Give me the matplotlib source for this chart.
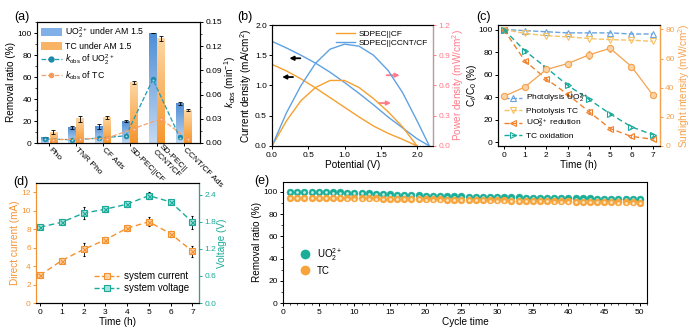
import numpy as np
import matplotlib
matplotlib.use('Agg')
import matplotlib.pyplot as plt
from matplotlib.colors import LinearSegmentedColormap
from matplotlib.ticker import AutoMinorLocator, FormatStrFormatter
from matplotlib.lines import Line2D
from matplotlib.patches import Patch
from matplotlib.transforms import ScaledTranslation

plt.rcParams.update({
    'font.family': ['Liberation Sans', 'DejaVu Sans'],
    'font.size': 6,
    'mathtext.fontset': 'custom',
    'mathtext.rm': 'Liberation Sans',
    'mathtext.it': 'Liberation Sans:italic',
    'mathtext.bf': 'Liberation Sans:bold',
    'axes.linewidth': 0.8,
    'xtick.major.size': 2.5, 'ytick.major.size': 2.5,
    'xtick.minor.size': 1.5, 'ytick.minor.size': 1.5,
    'xtick.major.width': 0.7, 'ytick.major.width': 0.7,
    'xtick.minor.width': 0.5, 'ytick.minor.width': 0.5,
    'xtick.major.pad': 1.5, 'ytick.major.pad': 1.2,
    'axes.labelpad': 1.0,
})

# ---------------- data ----------------
# (a)
cats_a = ['Pho', 'TNR Pho', 'CF Ads', 'SD-PEC||CF', 'SD-PEC||\nCCNT/CF', 'CCNT/CF Ads']
uo2_removal = [5, 14, 15, 20, 100, 36]
uo2_removal_err = [0.5, 1.5, 2, 1, 0, 1.5]
tc_removal = [10, 22, 23, 55, 95, 30]
tc_removal_err = [2, 2.5, 1.5, 1, 2, 1]
kobs_uo2 = [0.005, 0.004, 0.006, 0.009, 0.079, 0.007]
kobs_tc = [0.004, 0.005, 0.006, 0.018, 0.030, 0.005]

# (b)
pot_cf = [0, 0.2, 0.4, 0.6, 0.8, 1.0, 1.2, 1.4, 1.6, 1.8, 2.0]
j_cf = [1.35, 1.24, 1.11, 0.96, 0.80, 0.64, 0.48, 0.33, 0.21, 0.11, 0.0]
p_cf = [0, 0.25, 0.45, 0.58, 0.65, 0.65, 0.58, 0.47, 0.34, 0.19, 0.0]
pot_ccnt = [0, 0.2, 0.4, 0.6, 0.8, 1.0, 1.2, 1.4, 1.6, 1.8, 2.0, 2.17]
j_ccnt = [1.73, 1.62, 1.50, 1.37, 1.22, 1.05, 0.87, 0.68, 0.48, 0.30, 0.12, 0.0]
p_ccnt = [0, 0.33, 0.60, 0.82, 0.96, 1.01, 0.99, 0.90, 0.75, 0.53, 0.25, 0.0]

# (c)
time_h = [0, 1, 2, 3, 4, 5, 6, 7]
photo_uo2 = [100, 99, 98, 97, 97, 97, 96, 96]
photo_tc = [100, 96.5, 94.5, 93.5, 92, 91, 90.5, 89.5]
uo2_red = [100, 72, 56, 42.5, 27, 12, 5, 2.5]
uo2_red_err = [0, 1, 2, 2, 2.5, 1.5, 1, 1]
tc_oxi = [100, 81, 66, 50.5, 38, 25, 13.5, 6.5]
tc_oxi_err = [0, 1.5, 1.5, 2, 1.5, 1, 1, 1]
sun_int = [34, 40.5, 52.5, 56.5, 62.5, 67, 54.5, 35]
sun_int_err = [1, 1.5, 2, 2, 2.5, 2.5, 2, 1.5]

# (d)
sys_current = [3.0, 4.6, 5.8, 6.85, 8.1, 8.8, 7.5, 5.6]
sys_current_err = [0.3, 0.3, 0.7, 0.3, 0.3, 0.5, 0.3, 0.6]
sys_voltage = [1.68, 1.79, 1.99, 2.08, 2.19, 2.38, 2.24, 1.79]
sys_voltage_err = [0.05, 0.07, 0.13, 0.06, 0.07, 0.07, 0.05, 0.14]

# (e)
cycles = list(range(1, 51))
cyc_uo2 = [100, 100, 100, 100, 100, 100, 99.8, 99.6, 99.5, 99.3, 99.1, 98.9,
           98.6, 98.3, 98.0, 97.7, 97.4, 97.2, 97.0, 96.8, 96.6, 96.4, 96.2, 96.1, 96.0,
           95.8, 95.7, 95.6, 95.5, 95.4, 95.3, 95.2, 95.1, 95.0, 94.9, 94.8, 94.7, 94.6,
           94.5, 94.4, 94.4, 94.3, 94.2, 94.1, 94.0, 94.0, 93.9, 93.8, 93.8, 93.7]
cyc_tc = [94.8, 94.8, 94.7, 94.7, 94.6, 94.6, 94.5, 94.5, 94.4, 94.4, 94.3, 94.3, 94.2, 94.1, 94.0,
          93.9, 93.8, 93.7, 93.6, 93.5, 93.4, 93.3, 93.2, 93.1, 93.0, 92.9, 92.8, 92.7, 92.6, 92.5,
          92.4, 92.3, 92.2, 92.1, 92.0, 91.9, 91.8, 91.7, 91.6, 91.5, 91.4, 91.3, 91.2, 91.1, 91.0,
          90.9, 90.8, 90.7, 90.6, 90.5]

# ---------------- figure ----------------
W, H = 700, 332
fig = plt.figure(figsize=(W / 100, H / 100), dpi=100)
LFS = 7.2


def box(l, t, r, b):
    return [l / W, 1 - b / H, (r - l) / W, (b - t) / H]


def plabel(x, y, s):
    fig.text(x / W, 1 - y / H, s, fontsize=9, ha='left', va='center')


def grad_bar(ax, x, h, w, c_top, c_bot):
    cmap = LinearSegmentedColormap.from_list('g', [c_bot, c_top])
    grad = np.linspace(0, 1, 64).reshape(-1, 1)
    ax.imshow(grad, extent=[x - w / 2, x + w / 2, 0, h], origin='lower',
              aspect='auto', cmap=cmap, zorder=2, interpolation='bilinear')


def sphere(ax, x, y, color, ms, hl='white', zorder=3, **kw):
    ax.plot(x, y, 'o', color=color, ms=ms, mec=color, mew=0.3, zorder=zorder, **kw)
    off = ax.transData + ScaledTranslation(0, -0.25 / 72, fig.dpi_scale_trans)
    ax.plot(x, y, 'o', color=hl, ms=ms * 0.4, mew=0, alpha=0.85, zorder=zorder + 0.1,
            transform=off)


# ====== (a) ======
axa = fig.add_axes(box(37, 22, 200, 143))
xa = np.arange(len(cats_a))
bw = 0.27
for xi, v in zip(xa - 0.15, uo2_removal):
    grad_bar(axa, xi, v, bw, '#4f8fd6', '#c3d8f2')
for xi, v in zip(xa + 0.15, tc_removal):
    grad_bar(axa, xi, v, bw, '#fdd7a3', '#f6962c')
axa.errorbar(xa - 0.15, uo2_removal, yerr=uo2_removal_err, fmt='none', ecolor='k',
             elinewidth=0.6, capsize=1.3, capthick=0.6, zorder=4)
axa.errorbar(xa + 0.15, tc_removal, yerr=tc_removal_err, fmt='none', ecolor='k',
             elinewidth=0.6, capsize=1.3, capthick=0.6, zorder=4)
axa.set_xlim(-0.45, 5.6)
axa.set_ylim(0, 110)
axa.set_yticks([0, 20, 40, 60, 80, 100])
axa.yaxis.set_minor_locator(AutoMinorLocator(2))
axa.set_xticks(xa)
axa.set_xticklabels(cats_a, rotation=-45, ha='left', va='center', rotation_mode='anchor',
                    fontsize=6)
axa.set_ylabel('Removal ratio (%)', fontsize=LFS)
axa2 = axa.twinx()
axa2.set_ylim(0, 0.15)
axa2.set_yticks([0, 0.03, 0.06, 0.09, 0.12, 0.15])
axa2.yaxis.set_major_formatter(FormatStrFormatter('%.2f'))
axa2.yaxis.set_minor_locator(AutoMinorLocator(2))
axa2.plot(xa - 0.15, kobs_uo2, '--', color='#1f9bb5', lw=0.9, zorder=3)
sphere(axa2, xa - 0.15, kobs_uo2, '#1a8aa6', 3.6, hl='#bfe8f0')
axa2.plot(xa + 0.15, kobs_tc, '--', color='#f7a46a', lw=0.9, zorder=3)
sphere(axa2, xa + 0.15, kobs_tc, '#f59a5c', 3.0, hl='#ffe3c8')
axa2.set_ylabel('$k_{\\rm obs}$ (min$^{-1}$)', fontsize=LFS, labelpad=0.5)
ha = [Patch(facecolor='#7fb0e6', edgecolor='none'),
      Patch(facecolor='#f9b366', edgecolor='none'),
      Line2D([], [], ls='--', color='#1f9bb5', marker='o', mfc='#1a8aa6', mec='#1a8aa6', ms=3.5, lw=0.9),
      Line2D([], [], ls='--', color='#f7a46a', marker='o', mfc='#f59a5c', mec='#f59a5c', ms=3.0, lw=0.9)]
la = ['UO$_2^{2+}$ under AM 1.5', 'TC under AM 1.5', '$k_{\\rm obs}$ of UO$_2^{2+}$', '$k_{\\rm obs}$ of TC']
axa2.legend(ha, la, loc='upper left', bbox_to_anchor=(0.0, 1.0), frameon=False, fontsize=6.3,
            handlelength=2.4, handleheight=1.1, labelspacing=0.25, handletextpad=0.4,
            borderaxespad=0.2, borderpad=0.2)
plabel(14, 17, '(a)')

# ====== (b) ======
cb_or = '#f5a030'
cb_bl = '#5fa2e2'
pink = '#ff7b8a'
axb = fig.add_axes(box(272, 25, 433, 146))
axb.plot(pot_cf, j_cf, color=cb_or, lw=1.0, label='SDPEC||CF')
axb.plot(pot_ccnt, j_ccnt, color=cb_bl, lw=1.0, label='SDPEC||CCNT/CF')
axb.set_xlim(0, 2.22)
axb.set_ylim(0, 2.0)
axb.set_xticks([0, 0.5, 1.0, 1.5, 2.0])
axb.set_yticks([0, 0.5, 1.0, 1.5, 2.0])
axb.xaxis.set_major_formatter(FormatStrFormatter('%.1f'))
axb.yaxis.set_major_formatter(FormatStrFormatter('%.1f'))
axb.set_xlabel('Potential (V)', fontsize=LFS)
axb.set_ylabel('Current density (mA/cm$^2$)', fontsize=LFS, labelpad=0.5)
axb.legend(loc='upper right', frameon=False, fontsize=6, handlelength=2.2,
           labelspacing=0.2, borderaxespad=0.2, handletextpad=0.5)
axb2 = axb.twinx()
axb2.plot(pot_cf, p_cf, color=cb_or, lw=1.0)
axb2.plot(pot_ccnt, p_ccnt, color=cb_bl, lw=1.0)
axb2.set_ylim(0, 1.2)
axb2.set_yticks([0, 0.3, 0.6, 0.9, 1.2])
axb2.yaxis.set_major_formatter(FormatStrFormatter('%.1f'))
axb2.set_ylabel('Power density (mW/cm$^2$)', fontsize=LFS, color=pink, labelpad=0.3)
axb2.tick_params(axis='y', colors=pink)
axb2.spines['right'].set_color(pink)
for (x0, x1, yv, c) in [(0.39, 0.24, 1.45, 'k'), (0.29, 0.14, 1.14, 'k'),
                        (1.58, 1.76, 1.17, pink), (1.47, 1.64, 0.71, pink)]:
    axb.annotate('', xy=(x1, yv), xytext=(x0, yv),
                 arrowprops=dict(arrowstyle='-|>', color=c, lw=1.3, mutation_scale=6,
                                 shrinkA=0, shrinkB=0))
plabel(237, 17, '(b)')

# ====== (c) ======
c_blue = '#6aa5df'
c_yel = '#f7c266'
c_or = '#f0822e'
c_teal = '#1aa99a'
c_sun = '#f5a24e'
axc = fig.add_axes(box(498, 25, 660, 146))
mk = dict(ms=4, mfc='none', mew=0.8, lw=1.0)
axc.plot(time_h, photo_uo2, '--', marker='^', color=c_blue, **mk)
axc.plot(time_h, photo_tc, '--', marker='v', color=c_yel, **mk)
axc.errorbar(time_h, uo2_red, yerr=uo2_red_err, ls='--', marker='<', color=c_or,
             capsize=1, elinewidth=0.6, dashes=(4, 2.5), **mk)
axc.errorbar(time_h, tc_oxi, yerr=tc_oxi_err, ls='--', marker='>', color=c_teal,
             capsize=1, elinewidth=0.6, dashes=(4, 2.5), **mk)
axc.set_xlim(-0.27, 7.34)
axc.set_ylim(-3.5, 104)
axc.set_xticks(range(8))
axc.set_yticks([0, 20, 40, 60, 80, 100])
axc.set_xlabel('Time (h)', fontsize=LFS)
axc.set_ylabel('C$_t$/C$_0$ (%)', fontsize=LFS)
axc.yaxis.set_label_coords(-0.118, 0.5)
h_c = [Line2D([], [], ls='--', marker='^', color=c_blue, **mk),
       Line2D([], [], ls='--', marker='v', color=c_yel, **mk),
       Line2D([], [], ls='--', marker='<', color=c_or, **mk),
       Line2D([], [], ls='--', marker='>', color=c_teal, **mk)]
l_c = ['Photolysis UO$_2^{2+}$', 'Photolysis TC', 'UO$_2^{2+}$ redution', 'TC oxidation']
axc.legend(h_c, l_c, loc='lower left', frameon=False, fontsize=6, handlelength=2.2,
           labelspacing=0.25, borderaxespad=0.3, handletextpad=0.5)
axc2 = axc.twinx()
axc2.errorbar(time_h, sun_int, yerr=sun_int_err, ls='-', color=c_sun, lw=0.9, marker='o',
              ms=4.5, mfc='#fbd2a6', mec=c_sun, mew=0.8, capsize=1, elinewidth=0.6)
axc2.plot(time_h, sun_int, 'x', color=c_sun, ms=3.2, mew=0.7)
axc2.set_ylim(0, 83)
axc2.set_yticks([0, 20, 40, 60, 80])
axc2.set_ylabel('Sunlight intensity (mW/cm$^2$)', fontsize=LFS, color=c_sun)
axc2.tick_params(axis='y', colors=c_sun)
axc2.spines['right'].set_color(c_sun)
plabel(476, 17, '(c)')

# ====== (d) ======
d_or = '#f5922f'
d_teal = '#1aaa9a'
axd = fig.add_axes(box(36, 183, 199, 303))
axd.errorbar(time_h, sys_current, yerr=sys_current_err, ls='--', color=d_or, lw=1.0,
             marker='s', ms=5, mfc='#fcd3a8', mec=d_or, mew=0.8, ecolor='k',
             elinewidth=0.6, capsize=1, dashes=(4, 2.5))
axd.plot(time_h, sys_current, 'x', color=d_or, ms=3.6, mew=0.8, zorder=5)
axd.set_xlim(-0.18, 7.3)
axd.set_ylim(0, 13)
axd.set_xticks(range(8))
axd.set_yticks([0, 2, 4, 6, 8, 10, 12])
axd.set_xlabel('Time (h)', fontsize=LFS)
axd.set_ylabel('Direct current (mA)', fontsize=LFS, color=d_or)
axd.tick_params(axis='y', colors=d_or)
axd.spines['left'].set_color(d_or)
axd2 = axd.twinx()
axd2.errorbar(time_h, sys_voltage, yerr=sys_voltage_err, ls='--', color=d_teal, lw=1.0,
              marker='s', ms=5, mfc='#a8e2da', mec=d_teal, mew=0.8, ecolor='k',
              elinewidth=0.6, capsize=1, dashes=(4, 2.5))
axd2.plot(time_h, sys_voltage, 'x', color=d_teal, ms=3.6, mew=0.8, zorder=5)
axd2.set_ylim(0, 2.66)
axd2.set_yticks([0, 0.6, 1.2, 1.8, 2.4])
axd2.yaxis.set_major_formatter(FormatStrFormatter('%.1f'))
axd2.set_ylabel('Voltage (V)', fontsize=LFS, color=d_teal)
axd2.tick_params(axis='y', colors=d_teal)
axd2.spines['right'].set_color(d_teal)
axd2.spines['left'].set_color(d_or)
hd = [Line2D([], [], ls='--', color=d_or, marker='s', ms=5, mfc='#fcd3a8', mec=d_or, mew=0.8, lw=1.0),
      Line2D([], [], ls='--', color=d_teal, marker='s', ms=5, mfc='#a8e2da', mec=d_teal, mew=0.8, lw=1.0)]
axd2.legend(hd, ['system current', 'system voltage'], loc='lower right', frameon=False,
            fontsize=7, handlelength=2.6, labelspacing=0.2, borderaxespad=0.6,
            handletextpad=0.5)
plabel(13, 182, '(d)')

# ====== (e) ======
e_teal = '#1aae98'
e_or = '#f7a43c'
axe = fig.add_axes(box(283, 182, 647, 303))
sphere(axe, cycles, cyc_uo2, e_teal, 5.0, hl='#e8fbf7')
sphere(axe, cycles, cyc_tc, e_or, 5.0, hl='#fff3dc', zorder=4)
axe.set_xlim(0, 51)
axe.set_ylim(0, 109)
axe.set_xticks(range(0, 51, 5))
axe.set_yticks([0, 20, 40, 60, 80, 100])
axe.xaxis.set_minor_locator(AutoMinorLocator(5))
axe.yaxis.set_minor_locator(AutoMinorLocator(2))
axe.set_xlabel('Cycle time', fontsize=LFS)
axe.set_ylabel('Removal ratio (%)', fontsize=LFS)
he = [Line2D([], [], ls='none', marker='o', color=e_teal, ms=6),
      Line2D([], [], ls='none', marker='o', color=e_or, ms=6)]
axe.legend(he, ['UO$_2^{2+}$', 'TC'], loc='center left', bbox_to_anchor=(0.02, 0.35),
           frameon=False, fontsize=7, handlelength=1.2, labelspacing=0.3, handletextpad=0.6)
plabel(254, 181, '(e)')

fig.savefig('out.png', dpi=100)
